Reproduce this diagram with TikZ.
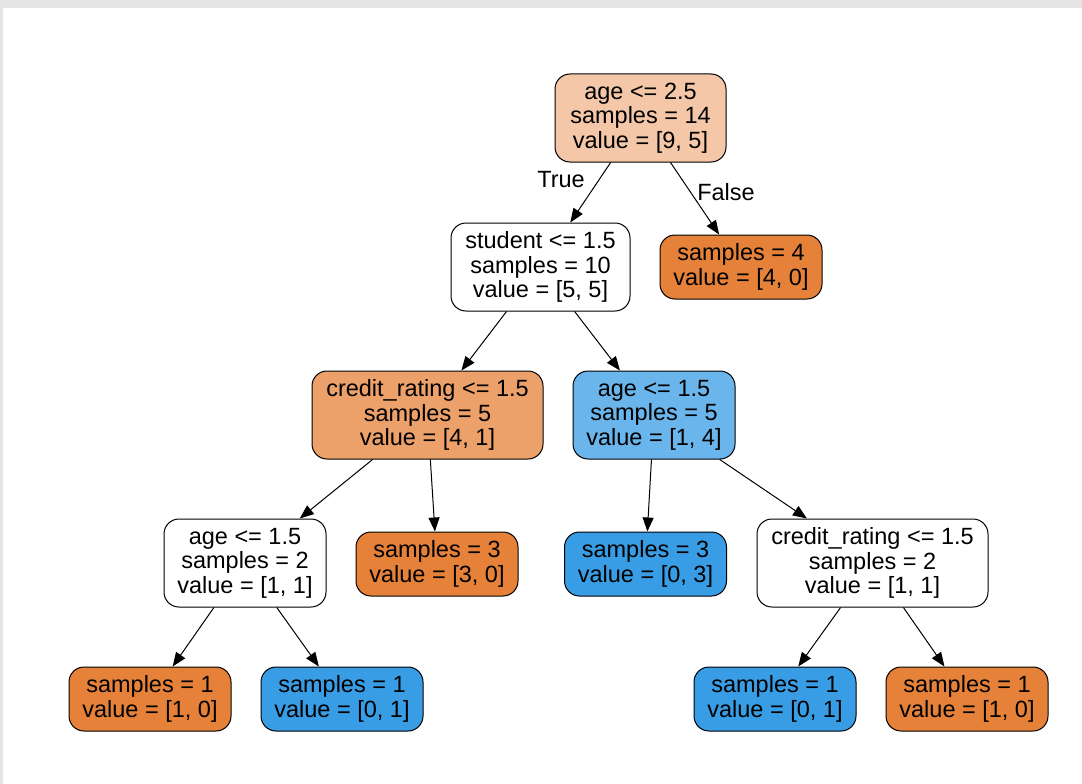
\documentclass[tikz,border=0pt]{standalone}
\usepackage{fontspec}
\setmainfont{Liberation Sans}
\usetikzlibrary{arrows.meta}
\definecolor{frame}{RGB}{229,229,229}
\definecolor{cor}{RGB}{229,129,57}
\definecolor{cbl}{RGB}{57,157,229}
\definecolor{croot}{RGB}{243,199,167}
\definecolor{ccr}{RGB}{236,160,106}
\definecolor{cab}{RGB}{106,181,235}
\tikzset{
  tree/.style={draw=black, line width=1pt, rounded corners=15pt, align=center,
    font=\fontsize{23.5}{24.5}\selectfont, inner sep=0pt},
  inner/.style={tree, minimum height=88pt},
  leaf/.style={tree, minimum height=64pt, minimum width=162pt},
  edge/.style={line width=1pt, -{Triangle[length=14pt,width=11pt]}},
  lbl/.style={font=\fontsize{23.5}{24.5}\selectfont}
}
\begin{document}
\begin{tikzpicture}[x=1pt,y=-1pt]
\useasboundingbox (0,0) rectangle (1082,784);
\fill[frame] (0,0) rectangle (1082,8);
\fill[frame] (0,0) rectangle (3,784);
\node[inner, fill=croot, minimum width=171pt] (n0) at (640.5,118) {age <= 2.5\\samples = 14\\value = [9, 5]};
\node[inner, fill=white, minimum width=179pt] (n1) at (540.5,267) {student <= 1.5\\samples = 10\\value = [5, 5]};
\node[leaf, fill=cor] (n2) at (741,267) {samples = 4\\value = [4, 0]};
\node[inner, fill=ccr, minimum width=231pt] (n3) at (427.5,415) {credit\_rating <= 1.5\\samples = 5\\value = [4, 1]};
\node[inner, fill=cab, minimum width=162pt] (n4) at (654,415) {age <= 1.5\\samples = 5\\value = [1, 4]};
\node[inner, fill=white, minimum width=162pt] (n5) at (245,563) {age <= 1.5\\samples = 2\\value = [1, 1]};
\node[leaf, fill=cor] (n6) at (437,564) {samples = 3\\value = [3, 0]};
\node[leaf, fill=cbl] (n7) at (645.5,564) {samples = 3\\value = [0, 3]};
\node[inner, fill=white, minimum width=231pt] (n8) at (872.5,563) {credit\_rating <= 1.5\\samples = 2\\value = [1, 1]};
\node[leaf, fill=cor] (n9) at (150,699) {samples = 1\\value = [1, 0]};
\node[leaf, fill=cbl] (n10) at (342,699) {samples = 1\\value = [0, 1]};
\node[leaf, fill=cbl] (n11) at (775,699) {samples = 1\\value = [0, 1]};
\node[leaf, fill=cor] (n12) at (967,699) {samples = 1\\value = [1, 0]};
\draw[edge] (n0) -- (n1);
\draw[edge] (n0) -- (n2);
\draw[edge] (n1) -- (n3);
\draw[edge] (n1) -- (n4);
\draw[edge] (n3) -- (n5);
\draw[edge] (n3) -- (n6);
\draw[edge] (n4) -- (n7);
\draw[edge] (n4) -- (n8);
\draw[edge] (n5) -- (n9);
\draw[edge] (n5) -- (n10);
\draw[edge] (n8) -- (n11);
\draw[edge] (n8) -- (n12);
\node[lbl] (t) at (561,180) {True};
\node[lbl] (f) at (726,192) {False};
\end{tikzpicture}
\end{document}
